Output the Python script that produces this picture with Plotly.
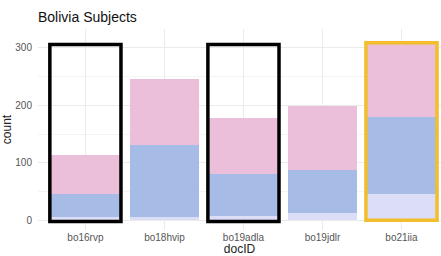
import plotly.graph_objects as go

categories = ["bo16rvp", "bo18hvip", "bo19adla", "bo19jdlr", "bo21iia"]
series_names = ["group 1", "group 2", "group 3"]
low_vals = [5, 6, 8, 13, 46]
mid_vals = [40, 125, 72, 74, 134]
top_vals = [68, 115, 98, 112, 130]
colors = ["#DCDDF7", "#A6BBE5", "#EBBEDA"]

highlight_black = ["bo16rvp", "bo19adla"]
highlight_gold = ["bo21iia"]

fig = go.Figure()
for name, vals, col in zip(series_names, [low_vals, mid_vals, top_vals], colors):
    fig.add_trace(go.Bar(x=categories, y=vals, name=name, marker_color=col,
                         marker_line_width=0, width=0.88))

shapes = []
for c in highlight_black:
    i = categories.index(c)
    shapes.append(dict(type="rect", xref="x", yref="y", x0=i - 0.45, x1=i + 0.45,
                       y0=-2, y1=306, line=dict(color="black", width=3.5),
                       fillcolor="rgba(0,0,0,0)"))
for c in highlight_gold:
    i = categories.index(c)
    shapes.append(dict(type="rect", xref="x", yref="y", x0=i - 0.45, x1=i + 0.45,
                       y0=0, y1=309, line=dict(color="#F2BE2C", width=3.5),
                       fillcolor="rgba(0,0,0,0)"))

fig.update_layout(
    barmode="stack",
    width=441, height=256,
    margin=dict(l=38, r=0, t=29, b=26),
    paper_bgcolor="white", plot_bgcolor="white",
    showlegend=False,
    shapes=shapes,
    font=dict(family="Liberation Sans, Arial, sans-serif"),
    title=dict(text="Bolivia Subjects", x=38 / 441, xanchor="left", y=1 - 17 / 256,
               yanchor="middle", font=dict(size=14, color="#111111", weight=500)),
    bargap=0.12,
)
fig.update_xaxes(range=[-0.6, 4.5], showgrid=True, gridcolor="#EBEBEB", gridwidth=1,
                 automargin=False,
                 tickfont=dict(size=10, color="#555555"), ticks="", ticklen=0, zeroline=False,
                 title=dict(text="docID", font=dict(size=12, color="#222222"), standoff=2))
fig.update_yaxes(range=[-17, 333], tickvals=[0, 100, 200, 300], showgrid=True,
                 automargin=False, ticklabelstandoff=5,
                 gridcolor="#EBEBEB", gridwidth=1, zeroline=False,
                 minor=dict(tickvals=[50, 150, 250], showgrid=True, gridcolor="#F4F4F4", gridwidth=0.6),
                 tickfont=dict(size=10, color="#555555"), ticks="",
                 title=dict(text="count", font=dict(size=12, color="#222222"), standoff=4))

fig.write_html("out.html", config={"displayModeBar": False},
               post_script="document.body.style.margin='0';document.body.style.overflow='hidden';")
